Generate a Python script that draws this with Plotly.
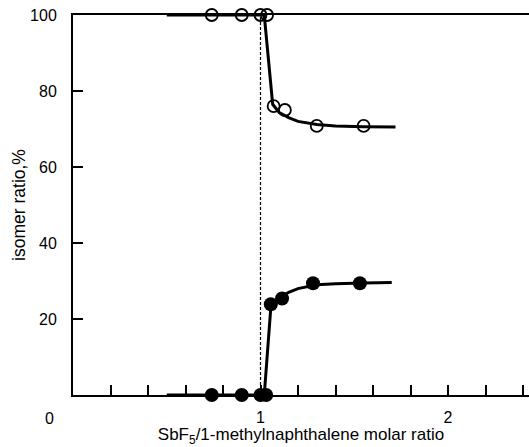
import plotly.graph_objects as go

# open circles (upper isomer)
open_x = [0.74, 0.90, 1.00, 1.035, 1.07, 1.13, 1.30, 1.55]
open_y = [100, 100, 100, 100, 76, 75, 70.8, 70.8]
# filled circles (lower isomer)
fill_x = [0.74, 0.90, 1.00, 1.03, 1.055, 1.115, 1.28, 1.53]
fill_y = [0, 0, 0, 0, 23.9, 25.4, 29.4, 29.4]
# drawn curves
upper_curve_x = [0.50, 1.00, 1.02, 1.065, 1.10, 1.15, 1.20, 1.30, 1.40, 1.55, 1.72]
upper_curve_y = [100, 100, 100, 76.5, 74.3, 73.0, 72.0, 71.2, 70.8, 70.6, 70.5]
lower_curve_x = [0.50, 1.00, 1.02, 1.055, 1.10, 1.15, 1.20, 1.30, 1.40, 1.55, 1.70]
lower_curve_y = [0, 0, 0, 23.0, 25.6, 27.0, 28.0, 29.0, 29.3, 29.5, 29.6]
x_ticks = [1, 2]
x_tick_text = ["1", "2"]
y_ticks = [20, 40, 60, 80, 100]
y_tick_text = ["20", "40", "60", "80", "100"]

FONT = "Liberation Sans, Arial, sans-serif"

fig = go.Figure()
fig.add_trace(go.Scatter(x=upper_curve_x, y=upper_curve_y, mode="lines",
                         line=dict(color="black", width=3), cliponaxis=False))
fig.add_trace(go.Scatter(x=lower_curve_x, y=lower_curve_y, mode="lines",
                         line=dict(color="black", width=3), cliponaxis=False))
fig.add_trace(go.Scatter(x=open_x, y=open_y, mode="markers", cliponaxis=False,
                         marker=dict(symbol="circle-open", size=12, color="black",
                                     line=dict(width=1.8, color="black"))))
fig.add_trace(go.Scatter(x=fill_x, y=fill_y, mode="markers", cliponaxis=False,
                         marker=dict(symbol="circle", size=14, color="black")))

fig.add_shape(type="line", x0=1, x1=1, y0=0, y1=100, xref="x", yref="y",
              line=dict(color="black", width=1.2, dash="3px,2px"))

fig.add_annotation(x=0, y=0, xref="x", yref="y", text="0", showarrow=False,
                   xshift=-24, yshift=-23, font=dict(family=FONT, size=16, color="black"))

fig.update_layout(
    width=529, height=447,
    margin=dict(l=73, r=0, t=15, b=52),
    plot_bgcolor="white", paper_bgcolor="white",
    showlegend=False,
    font=dict(family=FONT, size=16, color="black"),
)
fig.update_xaxes(
    range=[0, 2.432], showgrid=False, zeroline=False,
    showline=True, linecolor="black", linewidth=2, mirror=True,
    tickvals=x_ticks, ticktext=x_tick_text, ticks="inside", ticklen=10, tickwidth=1.5,
    tickcolor="black", ticklabelstandoff=7,
    tickfont=dict(family=FONT, size=16),
    minor=dict(dtick=0.2, tick0=0, ticks="inside", ticklen=10, tickwidth=1.5, tickcolor="black"),
    title=dict(text="SbF<sub>5</sub>/1-methylnaphthalene molar ratio",
               font=dict(family=FONT, size=17), standoff=5),
)
fig.update_yaxes(
    range=[0, 100], showgrid=False, zeroline=False,
    showline=True, linecolor="black", linewidth=2,
    tickvals=y_ticks, ticktext=y_tick_text, ticks="inside", ticklen=10, tickwidth=1.5,
    tickcolor="black", ticklabelstandoff=11,
    tickfont=dict(family=FONT, size=16),
    title=dict(text="isomer ratio,%", font=dict(family=FONT, size=17.5), standoff=0),
)

fig.write_html("out.html")
